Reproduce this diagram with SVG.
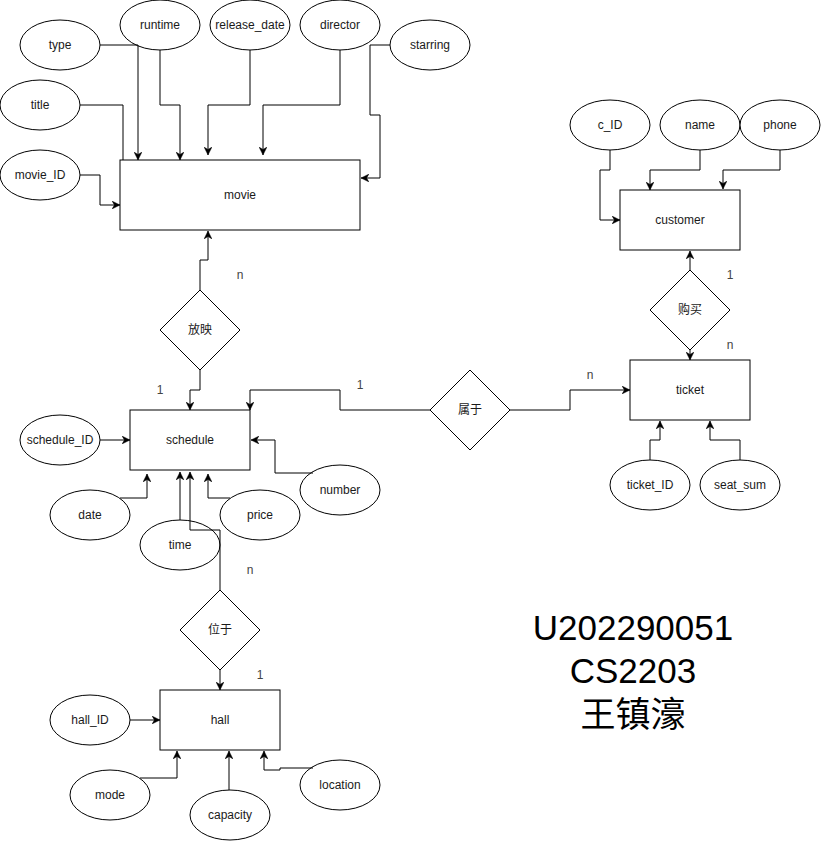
<svg xmlns="http://www.w3.org/2000/svg" width="821" height="841" viewBox="0 0 821 841">
<style>
.n{fill:#fff;stroke:#000;stroke-width:1}
.t{font-family:"Liberation Sans","Noto Sans CJK SC",sans-serif;font-size:12px;fill:#1a1a1a;text-anchor:middle}
.l{fill:#444}
.c path{fill:none;stroke:#000;stroke-width:1}
.c path.a{marker-end:url(#ar)}
.big{font-family:"Liberation Sans","Noto Sans CJK SC",sans-serif;font-size:35px;fill:#000;text-anchor:middle}
</style>
<defs>
<marker id="ar" viewBox="0 0 10 10" refX="10" refY="5" markerWidth="8" markerHeight="8" markerUnits="userSpaceOnUse" orient="auto">
<path d="M0,0 L10,5 L0,10 L3,5 z" fill="#000" stroke="#000" stroke-width="0.5"/>
</marker>
</defs>
<rect width="821" height="841" fill="#fff"/>
<g id="movie"><rect class="n" x="120" y="160" width="240" height="70"/><text class="t" x="240" y="199">movie</text></g>
<g id="type"><ellipse class="n" cx="60" cy="45" rx="40" ry="25"/><text class="t" x="60" y="49">type</text></g>
<g id="runtime"><ellipse class="n" cx="160" cy="25" rx="40" ry="25"/><text class="t" x="160" y="29">runtime</text></g>
<g id="release_date"><ellipse class="n" cx="250" cy="25" rx="40" ry="25"/><text class="t" x="250" y="29">release_date</text></g>
<g id="director"><ellipse class="n" cx="340" cy="25" rx="40" ry="25"/><text class="t" x="340" y="29">director</text></g>
<g id="starring"><ellipse class="n" cx="430" cy="45" rx="40" ry="25"/><text class="t" x="430" y="49">starring</text></g>
<g id="title"><ellipse class="n" cx="40" cy="105" rx="40" ry="25"/><text class="t" x="40" y="109">title</text></g>
<g id="movie_ID"><ellipse class="n" cx="40" cy="175" rx="40" ry="25"/><text class="t" x="40" y="179">movie_ID</text></g>
<g id="fangying"><polygon class="n" points="200,290 240,330 200,370 160,330"/><text class="t" x="200" y="334">放映</text></g>
<g id="schedule"><rect class="n" x="130" y="410" width="120" height="60"/><text class="t" x="190" y="444">schedule</text></g>
<g id="schedule_ID"><ellipse class="n" cx="60" cy="440" rx="40" ry="25"/><text class="t" x="60" y="444">schedule_ID</text></g>
<g id="number"><ellipse class="n" cx="340" cy="490" rx="40" ry="25"/><text class="t" x="340" y="494">number</text></g>
<g id="date"><ellipse class="n" cx="90" cy="515" rx="40" ry="25"/><text class="t" x="90" y="519">date</text></g>
<g id="price"><ellipse class="n" cx="260" cy="515" rx="40" ry="25"/><text class="t" x="260" y="519">price</text></g>
<g id="time"><ellipse class="n" cx="180" cy="545" rx="40" ry="25"/><text class="t" x="180" y="549">time</text></g>
<g id="weiyu"><polygon class="n" points="220,590 260,630 220,670 180,630"/><text class="t" x="220" y="634">位于</text></g>
<g id="hall"><rect class="n" x="160" y="690" width="120" height="60"/><text class="t" x="220" y="724">hall</text></g>
<g id="hall_ID"><ellipse class="n" cx="90" cy="720" rx="40" ry="25"/><text class="t" x="90" y="724">hall_ID</text></g>
<g id="mode"><ellipse class="n" cx="110" cy="795" rx="40" ry="25"/><text class="t" x="110" y="799">mode</text></g>
<g id="capacity"><ellipse class="n" cx="230" cy="815" rx="40" ry="25"/><text class="t" x="230" y="819">capacity</text></g>
<g id="location"><ellipse class="n" cx="340" cy="785" rx="40" ry="25"/><text class="t" x="340" y="789">location</text></g>
<g id="customer"><rect class="n" x="620" y="190" width="120" height="60"/><text class="t" x="680" y="224">customer</text></g>
<g id="c_ID"><ellipse class="n" cx="610" cy="125" rx="40" ry="25"/><text class="t" x="610" y="129">c_ID</text></g>
<g id="name"><ellipse class="n" cx="700" cy="125" rx="40" ry="25"/><text class="t" x="700" y="129">name</text></g>
<g id="phone"><ellipse class="n" cx="780" cy="125" rx="40" ry="25"/><text class="t" x="780" y="129">phone</text></g>
<g id="goumai"><polygon class="n" points="690,270 730,310 690,350 650,310"/><text class="t" x="690" y="314">购买</text></g>
<g id="ticket"><rect class="n" x="630" y="360" width="120" height="60"/><text class="t" x="690" y="394">ticket</text></g>
<g id="shuyu"><polygon class="n" points="470,370 510,410 470,450 430,410"/><text class="t" x="470" y="414">属于</text></g>
<g id="ticket_ID"><ellipse class="n" cx="650" cy="485" rx="40" ry="25"/><text class="t" x="650" y="489">ticket_ID</text></g>
<g id="seat_sum"><ellipse class="n" cx="740" cy="485" rx="40" ry="25"/><text class="t" x="740" y="489">seat_sum</text></g>
<g id="connectors" class="c">
<path class="a" d="M100,45 H138 V160"/>
<path class="a" d="M160,50 V105 H180 V160"/>
<path class="a" d="M250,50 V105 H208 V155"/>
<path class="a" d="M340,50 V105 H263 V155"/>
<path class="a" d="M390,45 H370 V115 H380 V178 H361"/>
<path d="M80,105 H123 V160"/>
<path class="a" d="M80,175 H100 V205 H120"/>
<path class="a" d="M200,290 V260 H208 V231"/>
<path class="a" d="M200,370 V390 H190 V410"/>
<path class="a" d="M430,410 H340 V390 H250 V410"/>
<path class="a" d="M510,410 H570 V390 H630"/>
<path class="a" d="M100,440 H130"/>
<path class="a" d="M313,473 H275 V440 H251"/>
<path class="a" d="M120,498 H147 V474"/>
<path class="a" d="M230,498 H208 V474"/>
<path class="a" d="M180,520 V472"/>
<path class="a" d="M220,590 V530 H190 V472"/>
<path class="a" d="M220,670 V690"/>
<path class="a" d="M130,720 H160"/>
<path class="a" d="M140,778 H177 V751"/>
<path class="a" d="M229,790 V751"/>
<path class="a" d="M313,768 H280 V770 H264 V751"/>
<path class="a" d="M610,150 V170 H600 V220 H620"/>
<path class="a" d="M700,150 V170 H650 V190"/>
<path class="a" d="M780,150 V170 H723 V189"/>
<path class="a" d="M690,270 V251"/>
<path class="a" d="M690,350 V360"/>
<path class="a" d="M650,460 V440 H660 V421"/>
<path class="a" d="M740,460 V440 H710 V421"/>
</g>
<g id="labels">
<text class="t l" x="240" y="279">n</text>
<text class="t l" x="160" y="394">1</text>
<text class="t l" x="360" y="389">1</text>
<text class="t l" x="590" y="379">n</text>
<text class="t l" x="730" y="279">1</text>
<text class="t l" x="730" y="349">n</text>
<text class="t l" x="250" y="574">n</text>
<text class="t l" x="260" y="679">1</text>
</g>
<g id="note">
<text class="big" x="633" y="640">U202290051</text>
<text class="big" x="633" y="683">CS2203</text>
<text class="big" x="633" y="727">王镇濠</text>
</g>
</svg>
